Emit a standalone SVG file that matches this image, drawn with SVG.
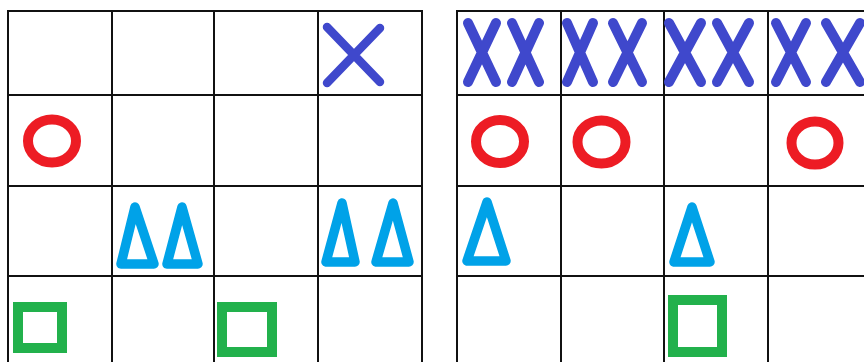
<svg xmlns="http://www.w3.org/2000/svg" width="864" height="362" viewBox="0 0 864 362">
<style>
.grid line{stroke:#111;stroke-width:2}
.x{stroke:#3f48cc;stroke-width:8.5;stroke-linecap:round;fill:none}
.xx{stroke:#3f48cc;stroke-width:10;stroke-linecap:round;fill:none}
.o{stroke:#ed1c24;stroke-width:10;fill:none}
.t{stroke:#00a2e8;stroke-width:9.5;stroke-linejoin:round;fill:none}
.s{stroke:#22b14c;stroke-width:10;fill:none}
</style>
<rect width="864" height="362" fill="#fff"/>
<g id="left-grid" class="grid">
<line x1="8" y1="11" x2="8" y2="362"/>
<line x1="112" y1="11" x2="112" y2="362"/>
<line x1="214" y1="11" x2="214" y2="362"/>
<line x1="318" y1="11" x2="318" y2="362"/>
<line x1="422" y1="11" x2="422" y2="362"/>
<line x1="7" y1="11" x2="423" y2="11"/>
<line x1="8" y1="95" x2="422" y2="95"/>
<line x1="8" y1="186" x2="422" y2="186"/>
<line x1="8" y1="276" x2="422" y2="276"/>
</g>
<g id="right-grid" class="grid">
<line x1="457" y1="11" x2="457" y2="362"/>
<line x1="561" y1="11" x2="561" y2="362"/>
<line x1="664" y1="11" x2="664" y2="362"/>
<line x1="768" y1="11" x2="768" y2="362"/>
<line x1="456" y1="11" x2="864" y2="11"/>
<line x1="457" y1="95" x2="864" y2="95"/>
<line x1="457" y1="186" x2="864" y2="186"/>
<line x1="457" y1="276" x2="864" y2="276"/>
</g>
<g id="left-marks">
<path class="x" d="M327 27 L380 82 M380 28 L327 83"/>
<ellipse class="o" cx="52" cy="141" rx="24" ry="21.5"/>
<path class="t" d="M135 207 L121 264 L154 264 Z"/>
<path class="t" d="M182 207 L167 264 L198 264 Z"/>
<path class="t" d="M342 203 L326 262 L355 262 Z"/>
<path class="t" d="M393 203 L376 262 L409 262 Z"/>
<rect class="s" x="18" y="307" width="44" height="41"/>
<rect class="s" x="222" y="307" width="50" height="45"/>
</g>
<g id="right-marks">
<path class="xx" d="M468 23 L496 82 M496 23 L468 82"/>
<path class="xx" d="M512 23 L539 82 M539 23 L512 82"/>
<path class="xx" d="M567 23 L593 82 M593 23 L567 82"/>
<path class="xx" d="M613 23 L642 82 M642 23 L613 82"/>
<path class="xx" d="M669 23 L701 82 M701 23 L669 82"/>
<path class="xx" d="M717 23 L749 82 M749 23 L717 82"/>
<path class="xx" d="M776 23 L806 82 M806 23 L776 82"/>
<path class="xx" d="M826 23 L860 82 M860 23 L826 82"/>
<ellipse class="o" cx="500" cy="141.5" rx="24" ry="21.5"/>
<ellipse class="o" cx="601.5" cy="142" rx="24" ry="21.5"/>
<ellipse class="o" cx="815" cy="143" rx="23.5" ry="21.5"/>
<path class="t" d="M487 202 L467 261 L506 261 Z"/>
<path class="t" d="M692 207 L674 262 L710 262 Z"/>
<rect class="s" x="673" y="300" width="49" height="52"/>
</g>
</svg>
